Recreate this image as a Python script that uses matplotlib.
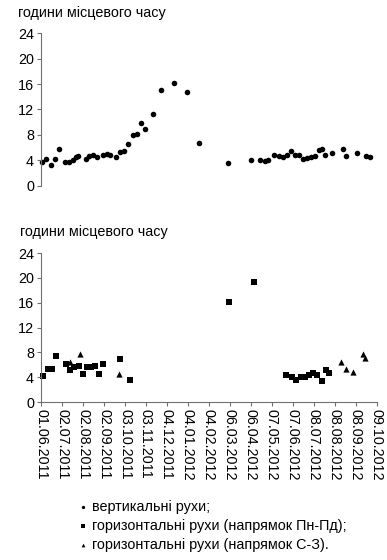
import matplotlib
matplotlib.use("Agg")
import matplotlib.pyplot as plt
import pandas as pd

plt.rcParams["font.family"] = ["Liberation Sans", "DejaVu Sans"]

start = pd.Timestamp("2011-06-01")
tick_labels = ["01.06.2011", "02.07.2011", "02.08.2011", "02.09.2011", "03.10.2011",
               "03.11.2011", "04.12.2011", "04.01.2012", "04.02.2012", "06.03.2012",
               "06.04.2012", "07.05.2012", "07.06.2012", "08.07.2012", "08.08.2012",
               "08.09.2012", "09.10.2012"]

# days since 01.06.2011, hours of local time
vert_days = [1.5, 8, 15, 20, 26, 36, 42, 47, 51, 55, 66, 71, 77, 83, 91, 97, 102, 110,
             116, 123, 129, 136, 142, 148, 154, 165, 177, 197, 215, 233, 276, 310, 324,
             330, 335, 344, 351, 357, 363, 369, 375, 381, 387, 393, 399, 405, 410, 415,
             420, 430, 446, 451, 466, 480, 486]
vert_hours = [3.7, 4.3, 3.3, 4.3, 5.8, 3.7, 3.8, 4.1, 4.5, 4.7, 4.3, 4.7, 4.9, 4.5, 4.8,
              5.0, 4.8, 4.6, 5.3, 5.5, 6.6, 8.0, 8.1, 9.8, 8.9, 11.3, 15.1, 16.1, 14.8,
              6.8, 3.6, 4.1, 4.1, 3.9, 4.0, 4.9, 4.7, 4.6, 4.8, 5.5, 4.8, 4.8, 4.3, 4.4,
              4.5, 4.7, 5.6, 5.8, 4.9, 5.2, 5.8, 4.7, 5.1, 4.7, 4.5]

ns_days = [3, 10, 16, 22, 37, 43, 49, 56, 62, 68, 74, 79, 85, 92, 116, 131, 278, 314,
           361, 371, 377, 384, 390, 396, 401, 407, 415, 421, 425]
ns_hours = [4.15, 5.3, 5.3, 7.5, 6.2, 5.1, 5.7, 5.8, 4.6, 5.6, 5.6, 5.8, 4.6, 6.1, 7.0,
            3.5, 16.1, 19.4, 4.4, 4.0, 3.5, 4.0, 4.0, 4.4, 4.7, 4.3, 3.4, 5.1, 4.7]

ws_days = [43, 57, 115, 443, 450, 460, 475, 478]
ws_hours = [6.5, 7.8, 4.6, 6.5, 5.3, 4.9, 7.8, 7.1]

legend_labels = ["вертикальні рухи;", "горизонтальні рухи (напрямок Пн-Пд);",
                 "горизонтальні рухи (напрямок С-З)."]
ylabel = "години місцевого часу"

tick_pos = [(pd.to_datetime(t, format="%d.%m.%Y") - start).days for t in tick_labels]

fig = plt.figure(figsize=(3.87, 5.6), dpi=100)
ax1 = fig.add_axes([0.106, 0.668, 0.868, 0.273])
ax2 = fig.add_axes([0.106, 0.282, 0.868, 0.266])

spine_col = "#707070"
for ax in (ax1, ax2):
    ax.set_xlim(0, tick_pos[-1])
    ax.set_ylim(0, 24)
    ax.set_yticks(range(0, 25, 4))
    for s in ("top", "right"):
        ax.spines[s].set_visible(False)
    ax.spines["left"].set_color(spine_col)
    ax.spines["bottom"].set_color(spine_col)
    ax.tick_params(axis="both", labelsize=10.4, length=3, color=spine_col, pad=2)

ax1.spines["bottom"].set_visible(False)
ax1.set_xticks([])

h1 = ax1.scatter(vert_days, vert_hours, s=16, marker="o", color="black", lw=0, clip_on=False)
h2 = ax2.scatter(ns_days, ns_hours, s=18, marker="s", color="black", lw=0, clip_on=False)
h3 = ax2.scatter(ws_days, ws_hours, s=20, marker="^", color="black", lw=0, clip_on=False)

ax2.set_xticks(tick_pos)
ax2.set_xticklabels(tick_labels, rotation=-90, fontsize=10.4)

fig.text(0.047, 0.977, ylabel, fontsize=10.4, va="center", ha="left")
fig.text(0.052, 0.585, ylabel, fontsize=10.4, va="center", ha="left")

fig.legend([h1, h2, h3], legend_labels, loc="upper left", bbox_to_anchor=(0.188, 0.12),
           bbox_transform=fig.transFigure, frameon=False, fontsize=10.4, markerscale=0.6,
           handlelength=0.4, handletextpad=0.45, labelspacing=0.33, borderpad=0)

fig.savefig("out.png", dpi=100)
